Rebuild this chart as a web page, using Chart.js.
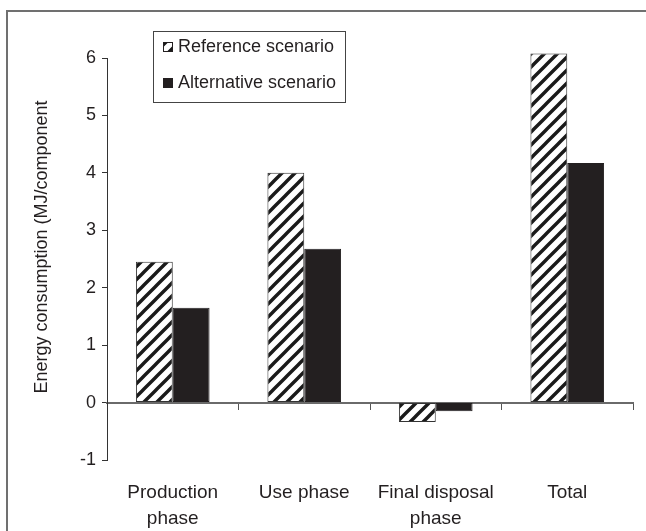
<!DOCTYPE html>
<html>
<head>
<meta charset="utf-8">
<script src="https://cdn.jsdelivr.net/npm/chart.js@4/dist/chart.umd.min.js"></script>
<style>
  html, body { margin: 0; padding: 0; background: #fff; }
  #wrap { width: 646px; height: 531px; position: relative; }
</style>
</head>
<body>
<div id="wrap"><canvas id="c" width="646" height="531"></canvas></div>
<script>
// Life-cycle phases and energy use per component (MJ/component)
const categories = [["Production", "phase"], ["Use phase"], ["Final disposal", "phase"], ["Total"]];
const seriesNames = ["Reference scenario", "Alternative scenario"];
const referenceValues = [2.45, 4.0, -0.34, 6.08];
const alternativeValues = [1.65, 2.68, -0.15, 4.17];
const yTickValues = [-1, 0, 1, 2, 3, 4, 5, 6];
const yTitle = "Energy consumption (MJ/component";

const FONT = "'Liberation Sans', Arial, Helvetica, sans-serif";
const INK = '#231f20';

// diagonal "/" hatch fill for the reference bars
function makeHatch() {
  const s = 13;
  const p = document.createElement('canvas');
  p.width = s; p.height = s;
  const g = p.getContext('2d');
  g.fillStyle = '#fff';
  g.fillRect(0, 0, s, s);
  g.strokeStyle = '#1a1a1a';
  g.lineWidth = 3.4;
  g.beginPath();
  for (const x0 of [-s, 0, s]) {
    g.moveTo(x0 - 2, s + 2);
    g.lineTo(x0 + s + 2, -2);
  }
  g.stroke();
  return g.createPattern(p, 'repeat');
}
const hatch = makeHatch();

// frame, rotated axis title and boxed legend
const decorations = {
  id: 'decorations',
  beforeDraw(chart) {
    const ctx = chart.ctx;
    ctx.save();
    ctx.fillStyle = '#fff';
    ctx.fillRect(0, 0, chart.width, chart.height);
    ctx.strokeStyle = '#707070';
    ctx.lineWidth = 2;
    ctx.beginPath();
    ctx.moveTo(7, chart.height);
    ctx.lineTo(7, 11);
    ctx.lineTo(chart.width, 11);
    ctx.stroke();
    ctx.restore();
  },
  afterDraw(chart) {
    const ctx = chart.ctx;
    ctx.save();
    // y-axis title
    ctx.translate(42, 247);
    ctx.rotate(-Math.PI / 2);
    ctx.font = '18px ' + FONT;
    ctx.fillStyle = INK;
    ctx.textAlign = 'center';
    ctx.textBaseline = 'middle';
    ctx.fillText(yTitle, 0, 0);
    ctx.restore();

    // legend box
    ctx.save();
    ctx.strokeStyle = '#444';
    ctx.lineWidth = 1;
    ctx.strokeRect(153.5, 31.5, 192, 71);
    const rows = [
      { y: 47, fill: hatch },
      { y: 83, fill: INK }
    ];
    ctx.font = '18px ' + FONT;
    ctx.textAlign = 'left';
    ctx.textBaseline = 'middle';
    rows.forEach((r, i) => {
      ctx.fillStyle = r.fill;
      ctx.fillRect(163, r.y - 5, 10, 10);
      ctx.strokeStyle = INK;
      ctx.strokeRect(163.5, r.y - 4.5, 9, 9);
      ctx.fillStyle = INK;
      ctx.fillText(seriesNames[i], 178, r.y);
    });
    ctx.restore();
  }
};

new Chart(document.getElementById('c'), {
  type: 'bar',
  data: {
    labels: categories,
    datasets: [
      {
        label: seriesNames[0],
        data: referenceValues,
        backgroundColor: hatch,
        borderColor: '#333',
        borderWidth: 1,
        borderSkipped: false,
        clip: false
      },
      {
        label: seriesNames[1],
        data: alternativeValues,
        backgroundColor: INK,
        borderColor: INK,
        borderWidth: 1,
        borderSkipped: false,
        clip: false
      }
    ]
  },
  options: {
    responsive: false,
    animation: false,
    datasets: { bar: { barPercentage: 1, categoryPercentage: 0.56 } },
    layout: { padding: { left: 0, right: 13, top: 58, bottom: 0 } },
    plugins: { legend: { display: false }, tooltip: { enabled: false } },
    scales: {
      x: {
        position: 'bottom',
        grid: { display: false, drawTicks: false },
        border: { display: false },
        ticks: {
          font: { size: 19, family: FONT, lineHeight: 1.4 },
          color: INK,
          padding: 19,
          maxRotation: 0,
          autoSkip: false
        },
        afterFit(s) { s.height = 531 - 460; }
      },
      xZero: {
        axis: 'x',
        type: 'category',
        position: { y: 0 },
        grid: { drawOnChartArea: false, tickLength: 6, color: '#555', offset: true },
        border: { color: '#6a6a6a', width: 2 },
        ticks: { display: false }
      },
      y: {
        min: -1,
        max: 6,
        afterBuildTicks(s) { s.ticks = yTickValues.map(v => ({ value: v })); },
        ticks: {
          font: { size: 18, family: FONT },
          color: INK,
          padding: 6
        },
        grid: { drawOnChartArea: false, tickLength: 5, color: '#333' },
        border: { color: '#333', width: 1 },
        afterFit(s) { s.width = 107; }
      }
    }
  },
  plugins: [decorations]
});
</script>
</body>
</html>
